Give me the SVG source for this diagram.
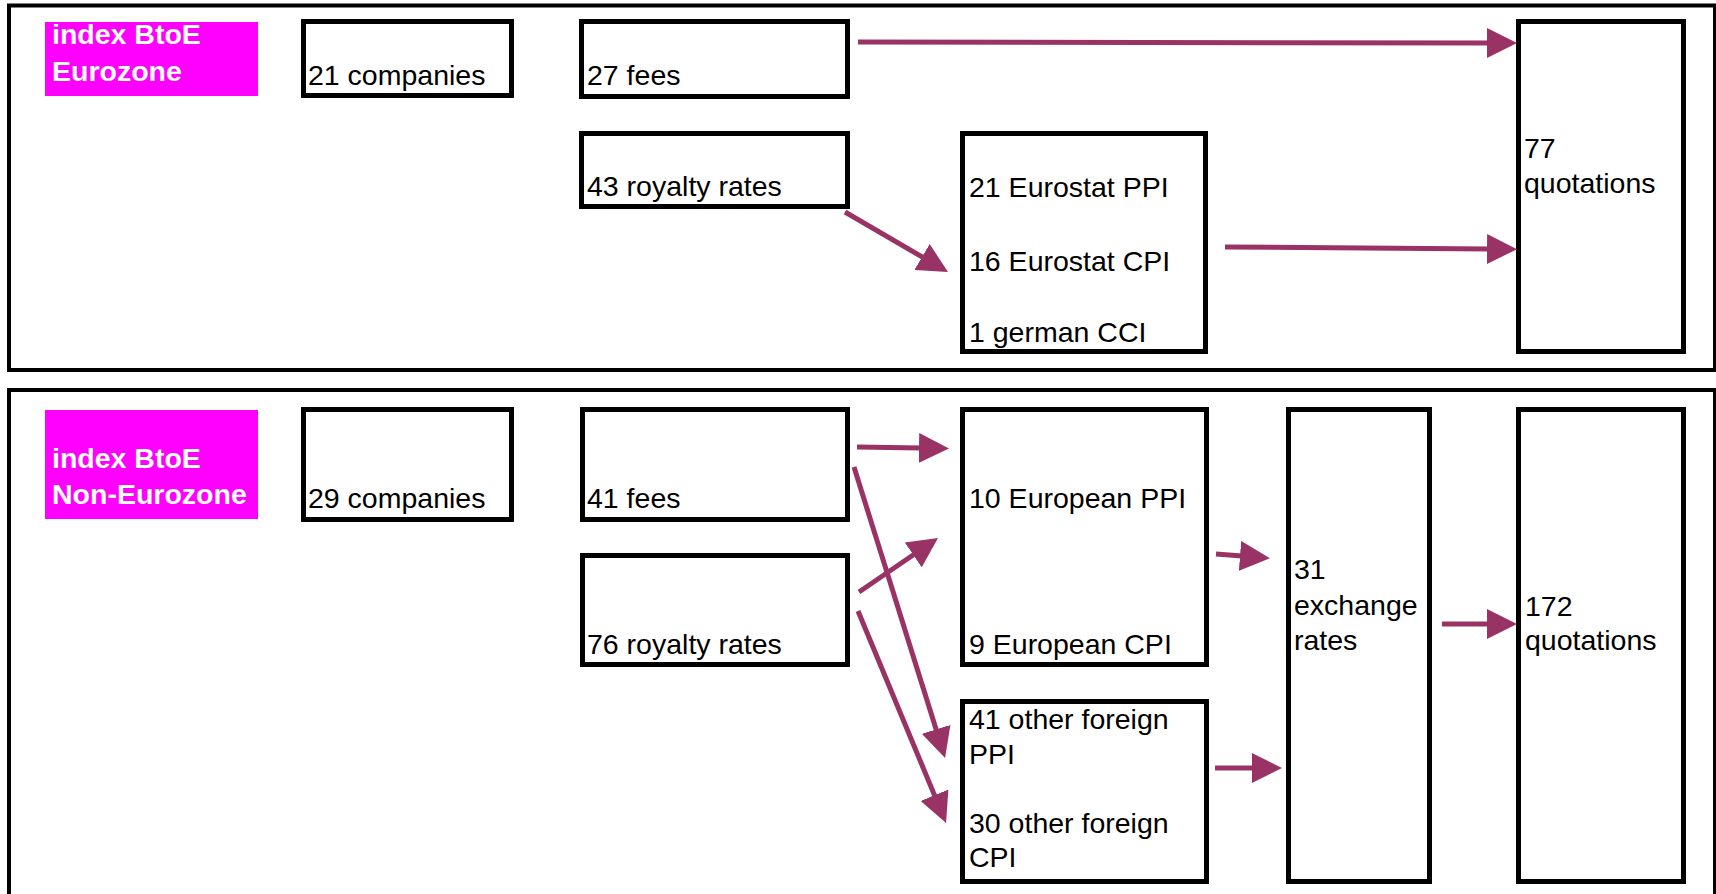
<svg xmlns="http://www.w3.org/2000/svg" width="1716" height="894" viewBox="0 0 1716 894">
<style>
.panel{fill:#fff;stroke:#000;stroke-width:4}
.box{fill:#fff;stroke:#000;stroke-width:5}
.tag{fill:#ff00ff}
.t{font-family:"Liberation Sans",Arial,sans-serif;font-size:28.5px;fill:#000}
.tb{font-family:"Liberation Sans",Arial,sans-serif;font-size:28.5px;font-weight:bold;fill:#fff}
.c{stroke:#993366;stroke-width:5;fill:none;marker-end:url(#ah)}
</style>
<defs>
<marker id="ah" markerUnits="userSpaceOnUse" markerWidth="30" markerHeight="30" refX="2" refY="15" orient="auto">
<path d="M0,0 L30,15 L0,30 Z" fill="#993366"/>
</marker>
</defs>
<rect width="1716" height="894" fill="#fff"/>
<g id="panel-eurozone"><rect class="panel" x="9" y="5.5" width="1706" height="364.5"/></g>
<g id="panel-noneurozone"><rect class="panel" x="9" y="390" width="1706" height="520"/></g>

<g id="tag-eurozone"><rect class="tag" x="45" y="22" width="213" height="74"/>
<text class="tb" x="52" y="44">index BtoE</text><text class="tb" x="52" y="81">Eurozone</text></g>
<g id="ez-companies"><rect class="box" x="303.5" y="21.5" width="208" height="74"/><text class="t" x="308" y="84.5">21 companies</text></g>
<g id="ez-fees"><rect class="box" x="581.5" y="21.5" width="266" height="75"/><text class="t" x="587" y="84.5">27 fees</text></g>
<g id="ez-royalty"><rect class="box" x="581.5" y="133.5" width="266" height="73"/><text class="t" x="587" y="195.5">43 royalty rates</text></g>
<g id="ez-indices"><rect class="box" x="962.5" y="133.5" width="243" height="218"/>
<text class="t" x="969" y="196.5">21 Eurostat PPI</text><text class="t" x="969" y="270.5">16 Eurostat CPI</text><text class="t" x="969" y="341.5">1 german CCI</text></g>
<g id="ez-quotations"><rect class="box" x="1518.5" y="21.5" width="165" height="330"/>
<text class="t" x="1524" y="158">77</text><text class="t" x="1524" y="192.5">quotations</text></g>

<g id="tag-noneurozone"><rect class="tag" x="45" y="410" width="213" height="109"/>
<text class="tb" x="52" y="468">index BtoE</text><text class="tb" x="52" y="504">Non-Eurozone</text></g>
<g id="nez-companies"><rect class="box" x="303.5" y="409.5" width="208" height="110"/><text class="t" x="308" y="508">29 companies</text></g>
<g id="nez-fees"><rect class="box" x="582.5" y="409.5" width="265" height="110"/><text class="t" x="587" y="508">41 fees</text></g>
<g id="nez-royalty"><rect class="box" x="582.5" y="555.5" width="265" height="109"/><text class="t" x="587" y="654">76 royalty rates</text></g>
<g id="nez-european"><rect class="box" x="962.5" y="409.5" width="244" height="255"/>
<text class="t" x="969" y="508">10 European PPI</text><text class="t" x="969" y="654">9 European CPI</text></g>
<g id="nez-foreign"><rect class="box" x="962.5" y="701.5" width="244" height="180"/>
<text class="t" x="969" y="729">41 other foreign</text><text class="t" x="969" y="764">PPI</text>
<text class="t" x="969" y="833">30 other foreign</text><text class="t" x="969" y="867">CPI</text></g>
<g id="nez-exchange"><rect class="box" x="1288.5" y="409.5" width="141" height="472"/>
<text class="t" x="1294" y="579">31</text><text class="t" x="1294" y="615">exchange</text><text class="t" x="1294" y="650">rates</text></g>
<g id="nez-quotations"><rect class="box" x="1518.5" y="409.5" width="165" height="472"/>
<text class="t" x="1525" y="616">172</text><text class="t" x="1525" y="650">quotations</text></g>

<g id="connectors">
<line class="c" x1="858" y1="42" x2="1489" y2="43"/>
<line class="c" x1="845" y1="212" x2="923.8" y2="257.9"/>
<line class="c" x1="1225" y1="247" x2="1489" y2="249"/>
<line class="c" x1="857" y1="447" x2="921" y2="448"/>
<line class="c" x1="854" y1="467" x2="936.7" y2="731.3"/>
<line class="c" x1="859" y1="592" x2="914.9" y2="553.8"/>
<line class="c" x1="858" y1="611" x2="935.3" y2="797.1"/>
<line class="c" x1="1216" y1="554" x2="1242" y2="556"/>
<line class="c" x1="1215" y1="768" x2="1254" y2="768"/>
<line class="c" x1="1442" y1="624" x2="1489" y2="624"/>
</g>
</svg>
